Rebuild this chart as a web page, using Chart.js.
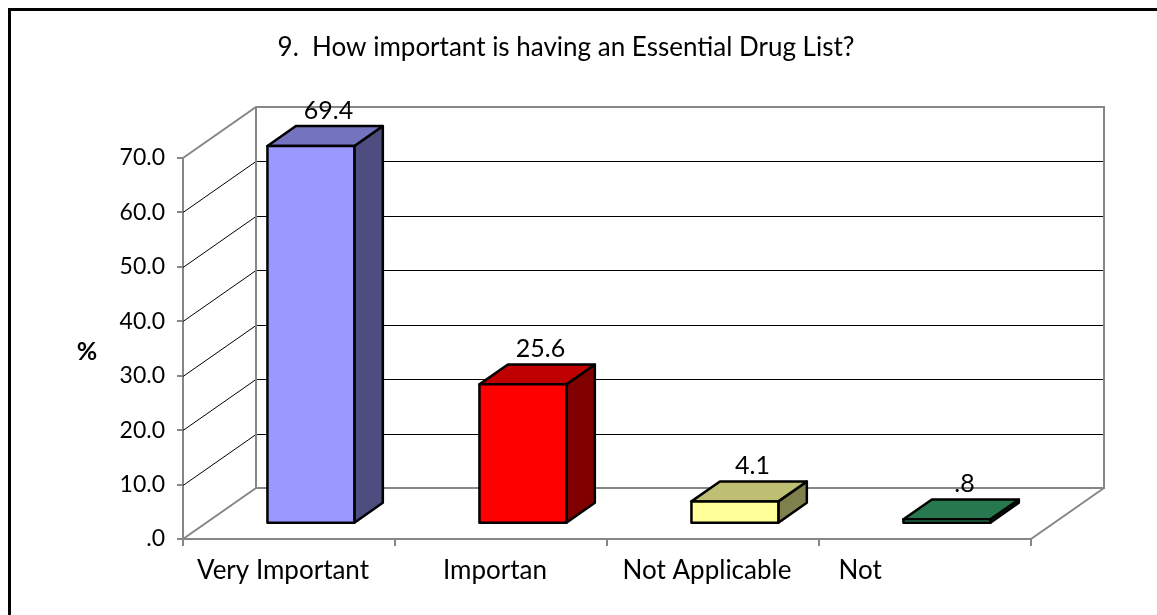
<!DOCTYPE html>
<html>
<head>
<meta charset="utf-8">
<title>Essential Drug List</title>
<script src="https://cdn.jsdelivr.net/npm/chart.js@4.4.1/dist/chart.umd.min.js"></script>
<style>
  html, body { margin: 0; padding: 0; background: #fff; }
  #chart { display: block; }
</style>
</head>
<body>
<canvas id="chart" width="1157" height="615"></canvas>
<script>
// survey answers, percent of respondents
const categories = ['Very Important', 'Importan', 'Not Applicable', 'Not'];
const percentValues = [69.4, 25.6, 4.1, 0.8];
const yTickValues = [0, 10, 20, 30, 40, 50, 60, 70];

// face shading for each box: front, top, right side
const frontColors = ['#9999FF', '#FF0000', '#FFFF99', '#339966'];
const topColors = ['#7373BF', '#C00000', '#BFBF73', '#28784F'];
const sideColors = ['#4D4D80', '#800000', '#80804D', '#1A4D33'];

const FONT = 'Lato, "Open Sans", sans-serif';
const GRAY = '#868686';

// depth of the box around the plot, and where the bars sit in it
const depth = { x: 73, y: -51 };
const barFront = 0.3;
const barDepth = 0.39;

const fmt = v => v.toFixed(1).replace(/^0\./, '.');

const threeD = {
  id: 'threeD',
  beforeDatasetsDraw(chart) {
    const { ctx, chartArea: a, scales: { y } } = chart;
    const dx = depth.x, dy = depth.y;
    const yTop = y.getPixelForValue(y.max);
    const y0 = y.getPixelForValue(0);
    ctx.save();

    // grid lines on the back wall and the left wall
    ctx.strokeStyle = '#000';
    ctx.lineWidth = 1;
    yTickValues.forEach(v => {
      if (v === 0 || v === y.max) return;
      const py = Math.round(y.getPixelForValue(v)) + 0.5;
      ctx.beginPath();
      ctx.moveTo(a.left, py);
      ctx.lineTo(a.left + dx, py + dy);
      ctx.lineTo(a.right + dx, py + dy);
      ctx.stroke();
    });

    // wall and floor edges
    ctx.strokeStyle = GRAY;
    ctx.lineWidth = 2;
    ctx.beginPath();
    ctx.moveTo(a.left, yTop);
    ctx.lineTo(a.left + dx, yTop + dy);
    ctx.lineTo(a.right + dx, yTop + dy);
    ctx.lineTo(a.right + dx, y0 + dy);
    ctx.lineTo(a.left + dx, y0 + dy);
    ctx.lineTo(a.left + dx, yTop + dy);
    ctx.moveTo(a.left, y0);
    ctx.lineTo(a.left + dx, y0 + dy);
    ctx.moveTo(a.right, y0);
    ctx.lineTo(a.right + dx, y0 + dy);
    ctx.stroke();
    ctx.restore();
  },
  afterDatasetsDraw(chart) {
    const { ctx } = chart;
    const meta = chart.getDatasetMeta(0);
    const bx = depth.x * barDepth, by = depth.y * barDepth;
    ctx.save();
    ctx.lineJoin = 'round';
    ctx.lineWidth = 2.5;
    ctx.strokeStyle = '#000';
    meta.data.forEach((bar, i) => {
      const { x, y, base, width } = bar.getProps(['x', 'y', 'base', 'width'], true);
      const x0 = x - width / 2 + depth.x * barFront;
      const x1 = x + width / 2 + depth.x * barFront;
      const yt = y + depth.y * barFront;
      const yb = base + depth.y * barFront;

      const face = (pts, color) => {
        ctx.beginPath();
        pts.forEach(([px, py], k) => (k ? ctx.lineTo(px, py) : ctx.moveTo(px, py)));
        ctx.closePath();
        ctx.fillStyle = color;
        ctx.fill();
        ctx.stroke();
      };
      face([[x1, yt], [x1 + bx, yt + by], [x1 + bx, yb + by], [x1, yb]], sideColors[i]);
      face([[x0, yt], [x1, yt], [x1 + bx, yt + by], [x0 + bx, yt + by]], topColors[i]);
      face([[x0, yt], [x1, yt], [x1, yb], [x0, yb]], frontColors[i]);

      // value label above the box
      ctx.fillStyle = '#000';
      ctx.font = '25px ' + FONT;
      ctx.textAlign = 'center';
      ctx.textBaseline = 'alphabetic';
      ctx.fillText(fmt(percentValues[i]), (x0 + x1) / 2 + bx * 0.62, yt + by - 7);
    });
    ctx.restore();
  },
  afterDraw(chart) {
    const { ctx, chartArea: a, scales: { x } } = chart;
    ctx.save();
    ctx.fillStyle = '#000';

    // title
    ctx.font = '26px ' + FONT;
    ctx.textAlign = 'center';
    ctx.textBaseline = 'middle';
    ctx.fillText('9.  How important is having an Essential Drug List?', 566, 48);

    // axis title
    ctx.font = 'bold 25px ' + FONT;
    ctx.fillText('%', 87, 352);

    // category labels; the last one is cut down to its first word
    ctx.font = '26px ' + FONT;
    ctx.textBaseline = 'alphabetic';
    const step = x.getPixelForValue(1) - x.getPixelForValue(0);
    categories.forEach((label, i) => {
      const cx = x.getPixelForValue(i) - 6;
      if (i === categories.length - 1) {
        ctx.textAlign = 'left';
        ctx.fillText(label, cx - step * 0.38, a.bottom + 40);
      } else {
        ctx.textAlign = 'center';
        ctx.fillText(label, cx, a.bottom + 40);
      }
    });

    // frame
    ctx.strokeStyle = '#000';
    ctx.lineWidth = 3;
    ctx.beginPath();
    ctx.moveTo(9.5, chart.height + 5);
    ctx.lineTo(9.5, 9.5);
    ctx.lineTo(chart.width + 5, 9.5);
    ctx.stroke();
    ctx.restore();
  }
};

new Chart(document.getElementById('chart'), {
  type: 'bar',
  data: {
    labels: categories,
    datasets: [{
      data: percentValues,
      backgroundColor: 'rgba(0,0,0,0)',
      borderWidth: 0,
      barPercentage: 0.41,
      categoryPercentage: 1
    }]
  },
  options: {
    responsive: false,
    animation: false,
    devicePixelRatio: 1,
    layout: { padding: { top: 158, right: 126, bottom: 0, left: 0 } },
    plugins: {
      legend: { display: false },
      tooltip: { enabled: false }
    },
    scales: {
      x: {
        grid: { drawOnChartArea: false, tickLength: 7, color: GRAY, lineWidth: 2 },
        border: { color: GRAY, width: 2 },
        ticks: { display: false },
        afterFit: s => { s.height = 76; }
      },
      y: {
        min: 0,
        max: 70,
        afterBuildTicks: s => { s.ticks = yTickValues.map(v => ({ value: v })); },
        ticks: {
          callback: v => fmt(v),
          color: '#000',
          padding: 12,
          font: { family: FONT, size: 23 }
        },
        grid: { drawOnChartArea: false, tickLength: 6, color: GRAY, lineWidth: 2 },
        border: { color: GRAY, width: 2 },
        afterFit: s => { s.width = 183; }
      }
    }
  },
  plugins: [threeD]
});
</script>
</body>
</html>
